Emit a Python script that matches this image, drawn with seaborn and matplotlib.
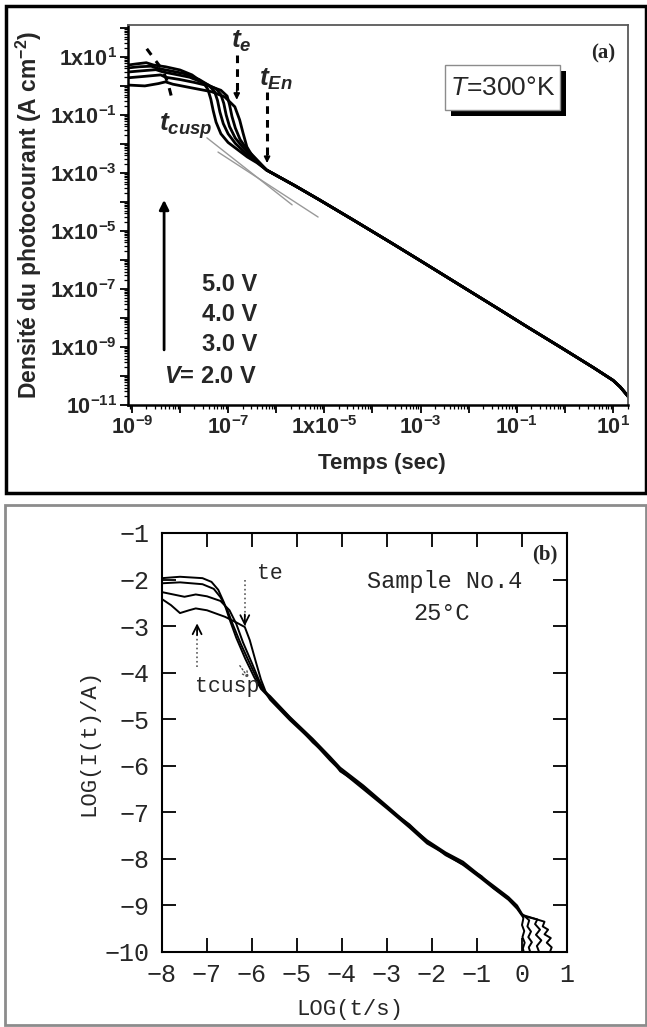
import matplotlib
matplotlib.use("Agg")
import numpy as np
import pandas as pd
import matplotlib.pyplot as plt
import matplotlib.ticker as mticker
from matplotlib.patches import Rectangle
import seaborn as sns

# ---------------- data: panel (a)  (log10 t [s], log10 J [A cm^-2]) ----------------
a_v5_logt = [-9.08, -8.9, -8.7, -8.55, -8.3, -8.0, -7.75, -7.5, -7.42, -7.36, -7.31, -7.25, -7.15, -7.0, -6.8, -6.6, -6.4]
a_v5_logJ = [0.72, 0.76, 0.80, 0.72, 0.66, 0.55, 0.38, 0.08, -0.12, -0.45, -0.85, -1.25, -1.65, -1.95, -2.2, -2.45, -2.65]
a_v45_logt = [-9.08, -8.85, -8.6, -8.45, -8.2, -7.9, -7.6, -7.4, -7.28, -7.22, -7.17, -7.1, -7.0, -6.85, -6.65, -6.45]
a_v45_logJ = [0.62, 0.66, 0.68, 0.60, 0.52, 0.42, 0.22, 0.02, -0.2, -0.5, -0.9, -1.3, -1.65, -1.98, -2.3, -2.55]
a_v4_logt = [-9.08, -8.8, -8.5, -8.35, -8.1, -7.8, -7.5, -7.25, -7.15, -7.09, -7.04, -6.97, -6.85, -6.7, -6.5]
a_v4_logJ = [0.48, 0.52, 0.56, 0.48, 0.40, 0.30, 0.10, -0.1, -0.3, -0.6, -1.0, -1.4, -1.8, -2.1, -2.45]
a_v3_logt = [-9.08, -8.8, -8.4, -8.3, -8.0, -7.7, -7.4, -7.15, -7.02, -6.97, -6.92, -6.85, -6.75, -6.6, -6.4]
a_v3_logJ = [0.28, 0.32, 0.38, 0.30, 0.22, 0.12, 0.0, -0.15, -0.35, -0.65, -1.05, -1.45, -1.85, -2.2, -2.55]
a_v2_logt = [-9.08, -8.73, -8.45, -8.3, -8.15, -7.75, -7.34, -7.07, -6.86, -6.76, -6.69, -6.61, -6.51, -6.35]
a_v2_logJ = [0.03, 0.0, 0.08, 0.14, 0.06, -0.07, -0.2, -0.38, -0.72, -1.17, -1.62, -2.1, -2.38, -2.65]
a_tail_logt = [-6.2, -5.6, -5.1, -4.4, -3.6, -3.0, -2.2, -1.35, -0.8, -0.1, 0.6, 1.0, 1.15, 1.32]
a_tail_logJ = [-2.9, -3.45, -3.93, -4.62, -5.42, -6.03, -6.85, -7.72, -8.29, -9.0, -9.72, -10.15, -10.38, -10.72]
# tangent (guide) lines
a_fit1_logt = [-7.21, -5.13]
a_fit1_logJ = [-2.28, -4.52]
a_fit2_logt = [-7.44, -5.67]
a_fit2_logJ = [-1.79, -4.10]

# ---------------- data: panel (b)  (log10 t/s, log10 I/A) ----------------
b_c4_x = [-8.0, -7.6, -7.1, -6.9, -6.75, -6.62, -6.5, -6.35, -6.15, -5.95, -5.8]
b_c4_y = [-1.97, -1.94, -1.97, -2.05, -2.22, -2.5, -2.85, -3.25, -3.7, -4.1, -4.35]
b_c3_x = [-8.0, -7.6, -7.1, -6.85, -6.7, -6.55, -6.42, -6.25, -6.05, -5.88, -5.75]
b_c3_y = [-2.08, -2.06, -2.1, -2.2, -2.38, -2.65, -2.98, -3.38, -3.8, -4.15, -4.38]
b_c2_x = [-8.0, -7.75, -7.5, -7.25, -7.0, -6.7, -6.5, -6.35, -6.2, -6.0, -5.85, -5.72]
b_c2_y = [-2.27, -2.32, -2.37, -2.32, -2.36, -2.46, -2.66, -2.95, -3.35, -3.8, -4.15, -4.4]
b_c1_x = [-8.0, -7.8, -7.6, -7.4, -7.25, -7.0, -6.6, -6.35, -6.16, -6.05, -5.92, -5.8, -5.7]
b_c1_y = [-2.42, -2.55, -2.72, -2.66, -2.62, -2.66, -2.8, -2.92, -3.02, -3.3, -3.75, -4.15, -4.4]
b_tail_x = [-5.6, -5.16, -4.65, -4.27, -4.04, -3.53, -3.0, -2.5, -2.11, -1.7, -1.31, -0.9, -0.64, -0.3, -0.11, 0.0]
b_tail4_y = [-4.55, -4.98, -5.45, -5.84, -6.08, -6.46, -6.89, -7.3, -7.64, -7.88, -8.1, -8.4, -8.6, -8.85, -9.04, -9.2]
b_tail3_y = [-4.5, -4.95, -5.42, -5.8, -6.04, -6.42, -6.86, -7.28, -7.6, -7.86, -8.06, -8.38, -8.57, -8.82, -9.0, -9.18]
b_tail2_y = [-4.58, -5.02, -5.48, -5.88, -6.1, -6.5, -6.92, -7.33, -7.67, -7.9, -8.13, -8.43, -8.63, -8.88, -9.07, -9.22]
b_tail1_y = [-4.53, -4.96, -5.5, -5.82, -6.12, -6.44, -6.9, -7.26, -7.62, -7.92, -8.12, -8.37, -8.62, -8.86, -9.05, -9.2]
b_end4_x = [0.03, 0.0, 0.05, 0.01, 0.06, 0.02, 0.05]
b_end4_y = [-9.28, -9.42, -9.55, -9.68, -9.8, -9.92, -10.05]
b_end3_x = [0.16, 0.12, 0.2, 0.14, 0.22, 0.15, 0.2]
b_end3_y = [-9.32, -9.45, -9.56, -9.68, -9.79, -9.9, -10.05]
b_end2_x = [0.34, 0.29, 0.4, 0.31, 0.43, 0.33, 0.4]
b_end2_y = [-9.3, -9.4, -9.52, -9.63, -9.75, -9.87, -10.05]
b_end1_x = [0.5, 0.46, 0.58, 0.5, 0.64, 0.55, 0.66, 0.6]
b_end1_y = [-9.35, -9.45, -9.52, -9.62, -9.7, -9.8, -9.9, -10.05]

# tick labels
a_ytick_exps = [1, -1, -3, -5, -7, -9, -11]
a_ytick_labels = [r"$\mathrm{1x10^{1}}$", r"$\mathrm{1x10^{-1}}$", r"$\mathrm{1x10^{-3}}$",
                  r"$\mathrm{1x10^{-5}}$", r"$\mathrm{1x10^{-7}}$", r"$\mathrm{1x10^{-9}}$",
                  r"$\mathrm{10^{-11}}$"]
a_xtick_exps = [-9, -7, -5, -3, -1, 1]
a_xtick_labels = [r"$\mathrm{10^{-9}}$", r"$\mathrm{10^{-7}}$", r"$\mathrm{1x10^{-5}}$",
                  r"$\mathrm{10^{-3}}$", r"$\mathrm{10^{-1}}$", r"$\mathrm{10^{1}}$"]
b_xticks = list(range(-8, 2))
b_yticks = list(range(-10, 0))

# ---------------- style ----------------
sns.set_theme(style="white")
plt.rcParams.update({
    "font.family": ["Liberation Sans", "DejaVu Sans"],
    "mathtext.fontset": "custom",
    "mathtext.rm": "Liberation Sans:bold",
    "mathtext.bf": "Liberation Sans:bold",
    "mathtext.it": "Liberation Sans:bold:italic",
    "mathtext.sf": "Liberation Sans:italic",
})

W, H = 647, 1027
fig = plt.figure(figsize=(W / 100, H / 100), dpi=100)


def frac_box(l, t, r, b):
    return [l / W, 1 - b / H, (r - l) / W, (b - t) / H]


# ================= panel (a) =================
ax = fig.add_axes(frac_box(128, 25, 628, 405))
ax.set_xscale("log")
ax.set_yscale("log")

heads = {"5V": (a_v5_logt, a_v5_logJ), "4.5V": (a_v45_logt, a_v45_logJ),
         "4V": (a_v4_logt, a_v4_logJ), "3V": (a_v3_logt, a_v3_logJ),
         "2V": (a_v2_logt, a_v2_logJ)}
frames = []
for name, (lt, lj) in heads.items():
    lt_all = list(lt) + a_tail_logt
    lj_all = list(lj) + a_tail_logJ
    frames.append(pd.DataFrame({"t": np.power(10.0, lt_all), "J": np.power(10.0, lj_all), "curve": name}))
df_a = pd.concat(frames, ignore_index=True)
sns.lineplot(data=df_a, x="t", y="J", hue="curve", palette=["black"] * len(heads),
             estimator=None, sort=False, legend=False, lw=2.0, ax=ax)

for ft, fj in [(a_fit1_logt, a_fit1_logJ), (a_fit2_logt, a_fit2_logJ)]:
    ax.plot(np.power(10.0, ft), np.power(10.0, fj), color="0.6", lw=1.0, zorder=1)

ax.set_xlim(10 ** -9.08, 10 ** 1.31)
ax.set_ylim(1e-11, 10 ** 2.1)

ax.xaxis.set_major_locator(mticker.FixedLocator([10.0 ** e for e in range(-9, 2)]))
ax.yaxis.set_major_locator(mticker.FixedLocator([10.0 ** e for e in range(-11, 3)]))
xlab_map = dict(zip(a_xtick_exps, a_xtick_labels))
ylab_map = dict(zip(a_ytick_exps, a_ytick_labels))
ax.xaxis.set_major_formatter(mticker.FuncFormatter(lambda v, p: xlab_map.get(int(round(np.log10(v))), "")))
ax.yaxis.set_major_formatter(mticker.FuncFormatter(lambda v, p: ylab_map.get(int(round(np.log10(v))), "")))
ax.xaxis.set_minor_locator(mticker.LogLocator(base=10, subs=np.arange(2, 10), numticks=100))
ax.yaxis.set_minor_locator(mticker.LogLocator(base=10, subs=np.arange(2, 10), numticks=100))
ax.xaxis.set_minor_formatter(mticker.NullFormatter())
ax.yaxis.set_minor_formatter(mticker.NullFormatter())
ax.tick_params(which="major", direction="out", length=6, width=1.3, color="black",
               labelsize=15.5, pad=2, bottom=True, left=True, top=False, right=False)
ax.tick_params(which="minor", direction="out", length=3, width=0.9, color="black",
               bottom=True, left=True, top=False, right=False)
for s in ["left", "bottom"]:
    ax.spines[s].set_color("black")
    ax.spines[s].set_linewidth(1.8)
for s in ["top", "right"]:
    ax.spines[s].set_color("0.35")
    ax.spines[s].set_linewidth(1.3)

ax.set_xlabel("Temps (sec)", fontsize=16, fontweight="bold")
ax.set_ylabel(r"Densité du photocourant (A cm$^{-2}$)", fontsize=16.5, fontweight="bold")
ax.xaxis.set_label_coords(0.508, -0.125)
ax.yaxis.set_label_coords(-0.168, 0.5)

# annotations panel (a)
ax.text(0.95, 0.925, "(a)", transform=ax.transAxes, ha="center", va="center",
        fontsize=15, fontweight="bold", family="Liberation Serif")
# framed temperature label with drop shadow
bx0, by0, bw, bh = 0.634, 0.776, 0.230, 0.119
ax.add_patch(Rectangle((bx0 + 0.012, by0 - 0.016), bw, bh, transform=ax.transAxes,
                       fc="black", ec="black", lw=0, zorder=5))
ax.add_patch(Rectangle((bx0, by0), bw, bh, transform=ax.transAxes,
                       fc="white", ec="0.55", lw=1.0, zorder=6))
ax.text(bx0 + bw / 2, by0 + bh / 2, r"$\mathsf{T}$=300°K", transform=ax.transAxes,
        ha="center", va="center", fontsize=19, zorder=7)

for txt, y in [("5.0 V", 0.316), ("4.0 V", 0.237), ("3.0 V", 0.158), (r"$V$= 2.0 V", 0.074)]:
    ax.text(0.258, y, txt, transform=ax.transAxes, ha="right", va="center",
            fontsize=17, fontweight="bold")

# vertical arrow
ax.annotate("", xy=(10 ** -8.33, 10 ** -3.93), xytext=(10 ** -8.33, 10 ** -9.1),
            arrowprops=dict(arrowstyle="-|>", lw=2.0, color="black", mutation_scale=14,
                            shrinkA=0, shrinkB=0))


def dashed_arrow(lt, j0, j1):
    ax.plot([10 ** lt, 10 ** lt], [10 ** j0, 10 ** (j1 + 0.2)], color="black", lw=2.2,
            ls=(0, (2.5, 2.0)))
    ax.annotate("", xy=(10 ** lt, 10 ** j1), xytext=(10 ** lt, 10 ** (j1 + 0.35)),
                arrowprops=dict(arrowstyle="-|>", lw=1.2, color="black", mutation_scale=9,
                                shrinkA=0, shrinkB=0))


dashed_arrow(-6.82, 1.07, -0.48)
dashed_arrow(-6.19, -0.2, -2.66)
cusp_lt = [-8.69, -8.52, -8.36, -8.25, -8.15]
cusp_lj = [1.28, 0.9, 0.55, 0.10, -0.55]
ax.plot(np.power(10.0, cusp_lt), np.power(10.0, cusp_lj), color="black", lw=2.2,
        ls=(0, (2.5, 2.5)), zorder=4)

ax.text(0.226, 0.958, r"$t_e$", transform=ax.transAxes, ha="center", va="center", fontsize=19)
ax.text(0.296, 0.858, r"$t_{En}$", transform=ax.transAxes, ha="center", va="center", fontsize=19)
ax.text(0.116, 0.734, r"$t_{cusp}$", transform=ax.transAxes, ha="center", va="center", fontsize=19)

# ================= panel (b) =================
mono = ["Liberation Mono", "DejaVu Sans Mono"]
bx = fig.add_axes(frac_box(162, 533, 567, 952))
b_curves = {"c4": (b_c4_x, b_c4_y, b_tail4_y, b_end4_x, b_end4_y),
            "c3": (b_c3_x, b_c3_y, b_tail3_y, b_end3_x, b_end3_y),
            "c2": (b_c2_x, b_c2_y, b_tail2_y, b_end2_x, b_end2_y),
            "c1": (b_c1_x, b_c1_y, b_tail1_y, b_end1_x, b_end1_y)}
frames = []
for name, (hx, hy, ty, ex, ey) in b_curves.items():
    frames.append(pd.DataFrame({"x": list(hx) + b_tail_x + list(ex),
                                "y": list(hy) + list(ty) + list(ey), "curve": name}))
df_b = pd.concat(frames, ignore_index=True)
sns.lineplot(data=df_b, x="x", y="y", hue="curve", palette=["black"] * len(b_curves),
             estimator=None, sort=False, legend=False, lw=1.4, ax=bx)
bx.set_xlim(-8, 1)
bx.set_ylim(-10, -1)
bx.set_xticks(b_xticks)
bx.set_yticks(b_yticks)
bx.tick_params(direction="in", length=10, width=1.3, color="black", top=True, right=True,
               bottom=True, left=True, labelsize=18)
bx.tick_params(axis="y", pad=9)
bx.tick_params(axis="x", pad=8)
for lab in bx.get_xticklabels() + bx.get_yticklabels():
    lab.set_family(mono)
for s in bx.spines.values():
    s.set_color("black")
    s.set_linewidth(1.5)
bx.set_xlabel("LOG(t/s)", fontsize=16, family=mono)
bx.set_ylabel("LOG(I(t)/A)", fontsize=16, family=mono)
bx.xaxis.set_label_coords(0.464, -0.112)
bx.yaxis.set_label_coords(-0.155, 0.5)

bx.text(-1.71, -2.05, "Sample No.4", ha="center", va="center", fontsize=17, family=mono)
bx.text(-1.78, -2.72, "25°C", ha="center", va="center", fontsize=17, family=mono)
bx.text(0.51, -1.47, "(b)", ha="center", va="center", fontsize=15, fontweight="bold",
        family="Liberation Serif")
bx.text(-5.6, -1.88, "te", ha="center", va="center", fontsize=15.5, family=mono)
bx.text(-7.27, -4.3, "tcusp", ha="left", va="center", fontsize=15.5, family=mono)


def dotted_arrow(x, y0, y1):
    bx.plot([x, x], [y0, y1], color="0.35", lw=1.2, ls=":")
    d = 0.25 if y1 < y0 else -0.25
    bx.annotate("", xy=(x, y1), xytext=(x, y1 + d),
                arrowprops=dict(arrowstyle="->", lw=1.3, color="black", mutation_scale=16,
                                shrinkA=0, shrinkB=0))


dotted_arrow(-6.16, -2.0, -3.0)
dotted_arrow(-7.22, -3.88, -2.94)
bx.annotate("", xy=(-6.07, -4.12), xytext=(-6.27, -3.85),
            arrowprops=dict(arrowstyle="->", lw=1.0, color="0.3", ls=":", mutation_scale=10,
                            shrinkA=0, shrinkB=0))

# ---------------- panel frames ----------------
fig.add_artist(Rectangle((6 / W, 1 - 493 / H), (646 - 6) / W, (493 - 6) / H,
                         transform=fig.transFigure, fill=False, ec="black", lw=2.5))
fig.add_artist(Rectangle((5 / W, 1 - 1025 / H), (646 - 5) / W, (1025 - 505) / H,
                         transform=fig.transFigure, fill=False, ec="0.55", lw=2))

fig.savefig("out.png", dpi=100)
